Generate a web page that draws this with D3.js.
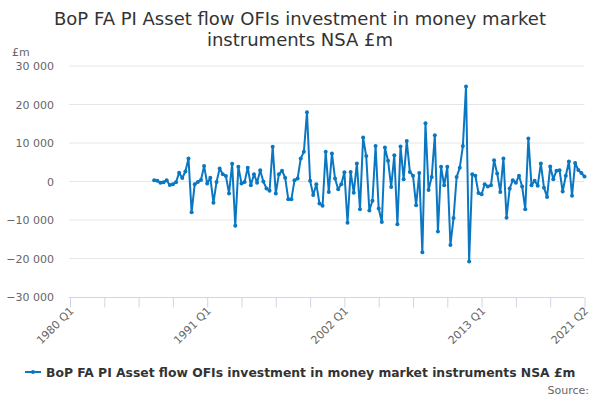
<!DOCTYPE html>
<html><head><meta charset="utf-8">
<script src="https://cdn.jsdelivr.net/npm/d3@7"></script>
<style>body{margin:0;background:#fff}svg{display:block;font-family:"DejaVu Sans",sans-serif}</style>
</head><body><svg id="c" width="600" height="400"></svg>
<script>
const titleLines = ["BoP FA PI Asset flow OFIs investment in money market", "instruments NSA £m"];
const seriesName = "BoP FA PI Asset flow OFIs investment in money market instruments NSA £m";
const unitLabel = "£m";
const sourceLabel = "Source:";
const startYear = 1980, endYear = 2021, endQuarter = 2;
const yTicks = [-30000, -20000, -10000, 0, 10000, 20000, 30000];
const xTickLabels = ["1980 Q1", "1991 Q1", "2002 Q1", "2013 Q1", "2021 Q2"];
const firstDataCategory = "1986 Q4";
const values = [
  300, 200, -300, -200, 300, -900, -700, -200, 2300, 900,
  2600, 6000, -8000, -700, -100, 400, 4000, -500, 1000, -5500,
  -100, 3400, 1900, 1400, -3100, 4600, -11500, 3800, -500, -100,
  3600, -1000, 1900, -300, 2900, 0, -1800, -2400, 9000, -3100,
  1900, 2800, 1000, -4600, -4600, 300, 800, 6000, 7700, 18000,
  200, -3500, -700, -5700, -6300, 7700, -2700, 7300, 800, -2000,
  -700, 2400, -10700, 2500, -2900, 4700, -7200, 11400, 6600, -7500,
  -5000, 9200, -7000, -10500, 8800, 5400, -1400, 6800, -11100, 9100,
  600, 10500, 2500, 1500, -6200, 2200, -18400, 15100, -2200, 1200,
  12000, -13000, 3800, -1000, 3800, -16500, -9500, 1200, 3600, 9200,
  24700, -20800, 1900, 1500, -3000, -3300, -700, -1300, -1000, 5500,
  2100, -2700, 6000, -9400, -1800, 300, -300, 1500, -1300, -7200,
  11200, -1000, 200, -1100, 4700, -1600, -4000, 3900, 600, 2800,
  2900, -2600, 1500, 5200, -3700, 4800, 3000, 2200, 1300
];

const categories = [];
for (let y = startYear; y <= endYear; y++) {
  for (let q = 1; q <= 4; q++) {
    if (y === endYear && q > endQuarter) break;
    categories.push(y + " Q" + q);
  }
}
const startIdx = categories.indexOf(firstDataCategory);
const data = values.map((v, i) => ({cat: categories[startIdx + i], v}));

const svg = d3.select("#c");
const L = 70, R = 584.5, T = 66, B = 297;
const x = d3.scalePoint().domain(categories).range([L, R]);
const y = d3.scaleLinear().domain([-30000, 30000]).range([B, T]);
const fmt = v => d3.format(",")(v).replace(/,/g, " ");

// title
svg.append("g").selectAll("text").data(titleLines).join("text")
  .attr("x", 300).attr("y", (d, i) => 25 + i * 21)
  .attr("text-anchor", "middle").attr("fill", "#333").style("font-size", "18px")
  .text(d => d);

// grid
svg.append("g").selectAll("line").data(yTicks.filter(t => t !== -30000)).join("line")
  .attr("x1", L - 1).attr("x2", R).attr("y1", d => y(d)).attr("y2", d => y(d))
  .attr("stroke", "#e6e6e6").attr("stroke-width", 1);

// y axis labels
const yAxis = d3.axisLeft(y).tickValues(yTicks).tickFormat(fmt).tickSize(0).tickPadding(16);
const gy = svg.append("g").attr("transform", `translate(${L},0)`).call(yAxis);
gy.select(".domain").remove();
gy.selectAll("text").attr("fill", "#666").style("font-size", "11px").style("font-family", "DejaVu Sans, sans-serif");

svg.append("text").attr("x", 12).attr("y", 56).attr("fill", "#666").style("font-size", "11px").text(unitLabel);

// x axis
const tickCats = categories.filter((c, i) => i % 11 === 0);
const xAxis = d3.axisBottom(x).tickValues(tickCats).tickSize(10)
  .tickFormat(d => xTickLabels.includes(d) ? d : "");
const gx = svg.append("g").attr("transform", `translate(0,${B + 0.5})`).call(xAxis);
gx.select(".domain").attr("stroke", "#ccd6eb").attr("d", `M${L - 1},0H${R}`);
gx.selectAll(".tick line").attr("stroke", "#ccd6eb");
gx.selectAll("text").attr("fill", "#666").style("font-size", "11px").style("font-family", "DejaVu Sans, sans-serif")
  .attr("text-anchor", "end").attr("dy", null).attr("y", 0)
  .attr("transform", "translate(4,14) rotate(-45)");

// line
const line = d3.line().x(d => x(d.cat)).y(d => y(d.v));
svg.append("path").datum(data).attr("d", line).attr("fill", "none")
  .attr("stroke", "#0a77c2").attr("stroke-width", 2).attr("stroke-linejoin", "round");
svg.append("g").selectAll("circle").data(data).join("circle")
  .attr("cx", d => x(d.cat)).attr("cy", d => y(d.v)).attr("r", 2).attr("fill", "#0a77c2");

// legend
svg.append("line").attr("x1", 25).attr("x2", 41).attr("y1", 372).attr("y2", 372).attr("stroke", "#0a77c2").attr("stroke-width", 2);
svg.append("circle").attr("cx", 33).attr("cy", 372).attr("r", 2).attr("fill", "#0a77c2");
svg.append("text").attr("x", 46).attr("y", 376.5).attr("fill", "#333").style("font-size", "12.35px").style("font-weight", "bold").text(seriesName);

svg.append("text").attr("x", 589).attr("y", 394).attr("text-anchor", "end").attr("fill", "#666").style("font-size", "11px").text(sourceLabel);
</script></body></html>
